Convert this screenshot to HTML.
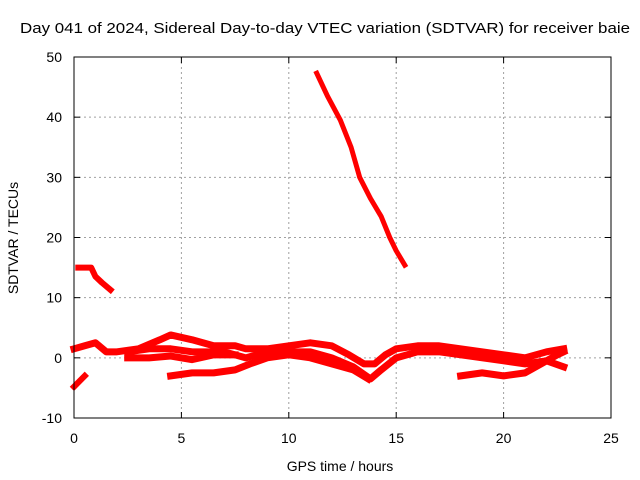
<!DOCTYPE html>
<html><head><meta charset="utf-8"><style>
body{margin:0;background:#fff}
svg{display:block;font-family:"Liberation Sans",sans-serif}
</style></head><body>
<svg id="c" width="640" height="480">
<text x="325" y="33" font-size="15" textLength="610" lengthAdjust="spacingAndGlyphs" text-anchor="middle">Day 041 of 2024, Sidereal Day-to-day VTEC variation (SDTVAR) for receiver baie</text>
<text x="340" y="471" font-size="14" text-anchor="middle">GPS time / hours</text>
<text transform="translate(18,238) rotate(-90)" font-size="14" text-anchor="middle">SDTVAR / TECUs</text>
<g id="grid"></g><g id="ticks"></g><g id="series"></g>
<rect x="74" y="57" width="537" height="361" fill="none" stroke="#000"/>
</svg>
<script>
const xTicks=[0,5,10,15,20,25];
const yTicks=[-10,0,10,20,30,40,50];
const trackHigh=[[11.3,47.3],[11.8,43.5],[12.4,39.5],[12.9,35],[13.3,30],[13.8,26.5],[14.3,23.5],[14.7,20],[15.0,17.8],[15.4,15.4]];
const trackMorning=[[0.2,15],[0.8,15],[1.0,13.5],[1.3,12.5],[1.7,11.3]];
const trackStart=[[0,-4.8],[0.5,-3]];
const trackUpper=[[0,1.5],[0.5,2],[1,2.5],[1.5,1],[2,1],[3,1.5],[4,3],[4.5,3.8],[5.5,3],[6.5,2],[7.5,2],[8,1.5],[9,1.5],[10,2],[11,2.5],[12,2],[12.8,0.5],[13.5,-1],[14,-1],[14.5,0.5],[15,1.5],[16,2],[17,2],[18,1.5],[19,1],[20,0.5],[21,0],[22,1],[22.8,1.5]];
const trackMiddle=[[2.5,1],[3.5,1.5],[4.5,1.5],[5.5,1],[7,1],[8,0],[9,1],[10,1],[11,1],[12,0],[13,-1.5],[13.8,-3.5],[14.3,-2],[15,0],[16,1],[17,1],[18,0.5],[19,0],[20,-0.5],[21,-1],[22,-0.5],[22.8,-1.5]];
const trackLow1=[[2.5,0],[3.5,0],[4.5,0.3],[5.5,-0.3],[6.5,0.5],[7.5,0.5]];
const trackLow2=[[4.5,-3],[5.5,-2.5],[6.5,-2.5],[7.5,-2],[8.2,-1],[9,0],[10,0.5],[11,0],[12,-1],[13,-2],[13.7,-3.5]];
const trackLate=[[18,-3],[19,-2.5],[20,-3],[21,-2.5],[21.5,-1.5],[22.5,0.5],[22.8,1]];
const tracks=[trackHigh,trackMorning,trackStart,trackUpper,trackMiddle,trackLow1,trackLow2,trackLate];
const widths=[5,6,6,7,7,7,7,7];
const NS="http://www.w3.org/2000/svg";
const X=v=>74+v*(537/25), Y=v=>418-(v+10)*(361/60);
const grid=document.getElementById('grid'),ticks=document.getElementById('ticks'),ser=document.getElementById('series');
function mk(t,a,p){const e=document.createElementNS(NS,t);for(const k in a)e.setAttribute(k,a[k]);p.appendChild(e);return e;}
xTicks.forEach(v=>{const x=X(v);
 if(v>0&&v<25){const g=mk('line',{x1:x,x2:x,y1:57,y2:418,stroke:'#a0a0a0','stroke-dasharray':'2,3'},grid);
 
 }
 const t=mk('text',{x:x,y:443,'font-size':14,'text-anchor':'middle'},ticks);t.textContent=v;
 
 
 mk('line',{x1:x,x2:x,y1:418,y2:412,stroke:'#000'},ticks);mk('line',{x1:x,x2:x,y1:57,y2:63,stroke:'#000'},ticks);});
yTicks.forEach(v=>{const y=Y(v);
 if(v>-10&&v<50){const g=mk('line',{x1:74,x2:611,y1:y,y2:y,stroke:'#a0a0a0','stroke-dasharray':'2,3'},grid);
 
 }
 const t=mk('text',{x:62,y:y+5,'font-size':14,'text-anchor':'end'},ticks);t.textContent=v;
 
 
 mk('line',{x1:74,x2:80,y1:y,y2:y,stroke:'#000'},ticks);mk('line',{x1:611,x2:605,y1:y,y2:y,stroke:'#000'},ticks);});
tracks.forEach((tr,i)=>{
 const p=mk('polyline',{points:tr.map(d=>X(d[0])+','+Y(d[1])).join(' '),fill:'none',stroke:'#ff0000','stroke-width':widths[i],'stroke-linejoin':'round','stroke-linecap':'square'},ser);
 
 
});
</script>
</body></html>
